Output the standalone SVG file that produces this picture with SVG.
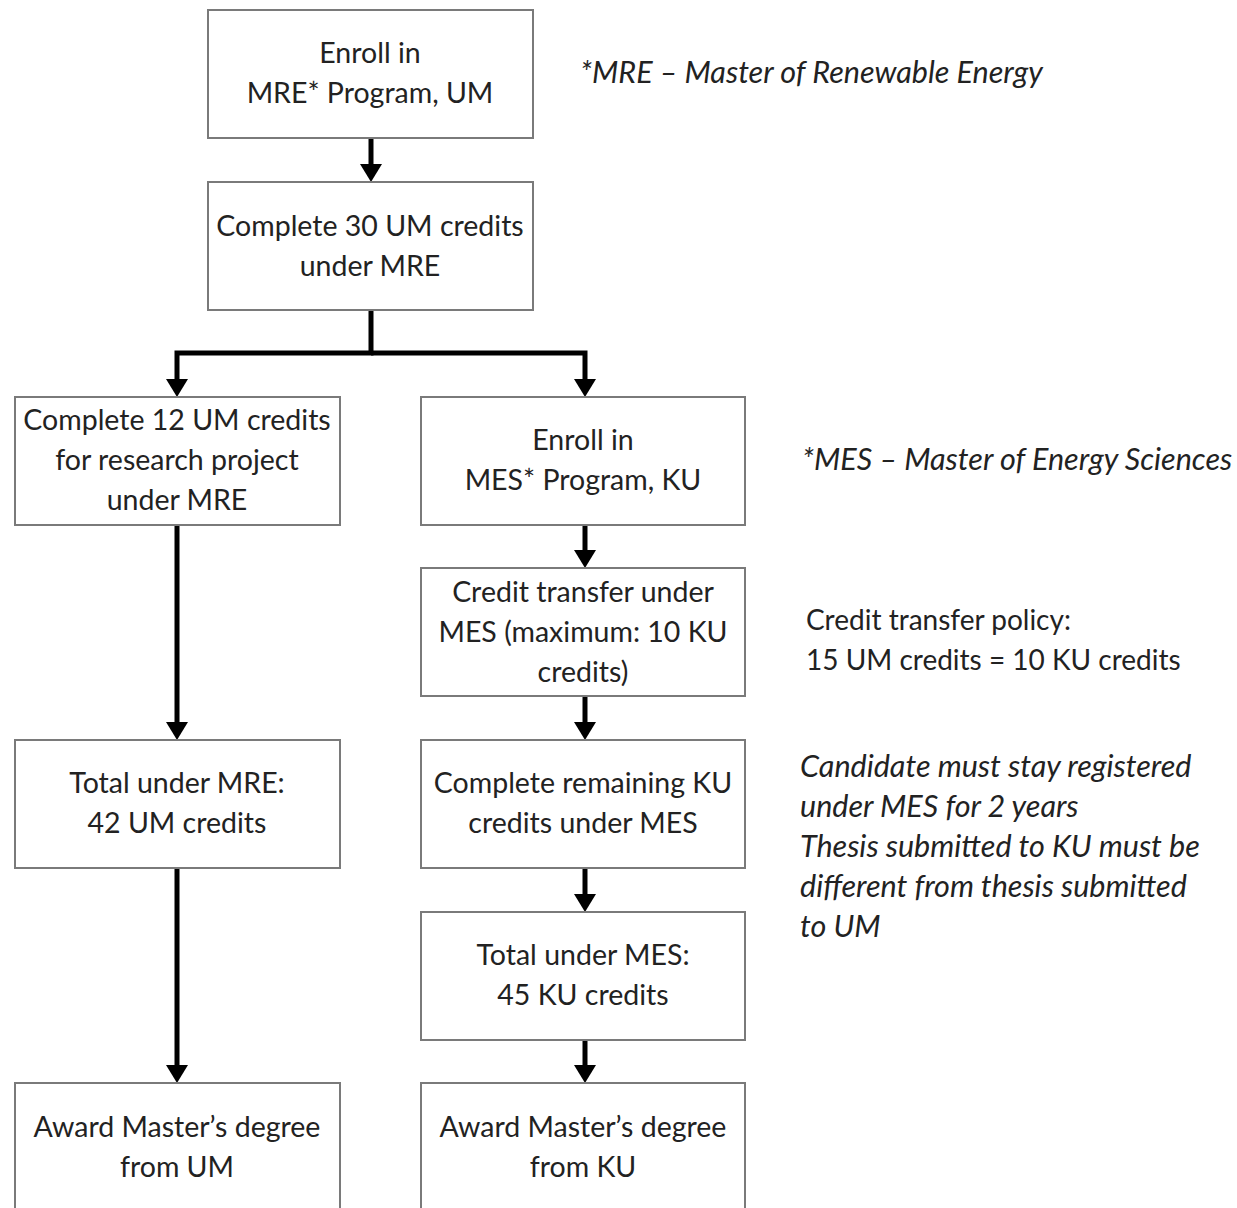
<svg xmlns="http://www.w3.org/2000/svg" width="1237" height="1208" viewBox="0 0 1237 1208">
<style>
.box{fill:#fff;stroke:#7a7a7a;stroke-width:2}
.t{font-family:Lato,"Open Sans","Liberation Sans",sans-serif;font-size:28.5px;fill:#222;text-anchor:middle}
.n{font-family:Lato,"Open Sans","Liberation Sans",sans-serif;font-size:28px;fill:#222}
.i{font-style:italic;font-size:30.5px}
.c{fill:none;stroke:#000;stroke-width:5}
</style>
<rect width="1237" height="1208" fill="#fff"/>
<g id="connectors">
<line class="c" x1="371" y1="138" x2="371" y2="164"/>
<path d="M371,182 l-11,-18 h22 z"/>
<path class="c" d="M371,310 V353 H177 V380"/>
<path class="c" d="M371,353 H585 V380"/>
<path d="M177,397 l-11,-18 h22 z"/>
<path d="M585,397 l-11,-18 h22 z"/>
<line class="c" x1="177" y1="525" x2="177" y2="722"/>
<path d="M177,740 l-11,-18 h22 z"/>
<line class="c" x1="177" y1="868" x2="177" y2="1065"/>
<path d="M177,1083 l-11,-18 h22 z"/>
<line class="c" x1="585" y1="525" x2="585" y2="550"/>
<path d="M585,568 l-11,-18 h22 z"/>
<line class="c" x1="585" y1="696" x2="585" y2="722"/>
<path d="M585,740 l-11,-18 h22 z"/>
<line class="c" x1="585" y1="868" x2="585" y2="894"/>
<path d="M585,912 l-11,-18 h22 z"/>
<line class="c" x1="585" y1="1040" x2="585" y2="1065"/>
<path d="M585,1083 l-11,-18 h22 z"/>
</g>
<g id="n1"><rect class="box" x="208" y="10" width="325" height="128"/>
<text class="t" x="370" y="63">Enroll in</text><text class="t" x="370" y="103">MRE* Program, UM</text></g>
<g id="n2"><rect class="box" x="208" y="182" width="325" height="128"/>
<text class="t" x="370" y="236">Complete 30 UM credits</text><text class="t" x="370" y="276">under MRE</text></g>
<g id="n3"><rect class="box" x="15" y="397" width="325" height="128"/>
<text class="t" x="177" y="430">Complete 12 UM credits</text><text class="t" x="177" y="470">for research project</text><text class="t" x="177" y="510">under MRE</text></g>
<g id="n4"><rect class="box" x="421" y="397" width="324" height="128"/>
<text class="t" x="583" y="450">Enroll in</text><text class="t" x="583" y="490">MES* Program, KU</text></g>
<g id="n5"><rect class="box" x="421" y="568" width="324" height="128"/>
<text class="t" x="583" y="602">Credit transfer under</text><text class="t" x="583" y="642">MES (maximum: 10 KU</text><text class="t" x="583" y="682">credits)</text></g>
<g id="n6"><rect class="box" x="15" y="740" width="325" height="128"/>
<text class="t" x="177" y="793">Total under MRE:</text><text class="t" x="177" y="833">42 UM credits</text></g>
<g id="n7"><rect class="box" x="421" y="740" width="324" height="128"/>
<text class="t" x="583" y="793">Complete remaining KU</text><text class="t" x="583" y="833">credits under MES</text></g>
<g id="n8"><rect class="box" x="421" y="912" width="324" height="128"/>
<text class="t" x="583" y="965">Total under MES:</text><text class="t" x="583" y="1005">45 KU credits</text></g>
<g id="n9"><rect class="box" x="15" y="1083" width="325" height="140"/>
<text class="t" x="177" y="1137">Award Master’s degree</text><text class="t" x="177" y="1177">from UM</text></g>
<g id="n10"><rect class="box" x="421" y="1083" width="324" height="140"/>
<text class="t" x="583" y="1137">Award Master’s degree</text><text class="t" x="583" y="1177">from KU</text></g>
<g id="notes">
<text class="n i" x="580" y="83">*MRE – Master of Renewable Energy</text>
<text class="n i" x="802" y="470">*MES – Master of Energy Sciences</text>
<text class="n" x="806" y="630">Credit transfer policy:</text>
<text class="n" x="806" y="670">15 UM credits = 10 KU credits</text>
<text class="n i" x="800" y="777">Candidate must stay registered</text>
<text class="n i" x="800" y="817">under MES for 2 years</text>
<text class="n i" x="800" y="857">Thesis submitted to KU must be</text>
<text class="n i" x="800" y="897">different from thesis submitted</text>
<text class="n i" x="800" y="937">to UM</text>
</g>
</svg>
